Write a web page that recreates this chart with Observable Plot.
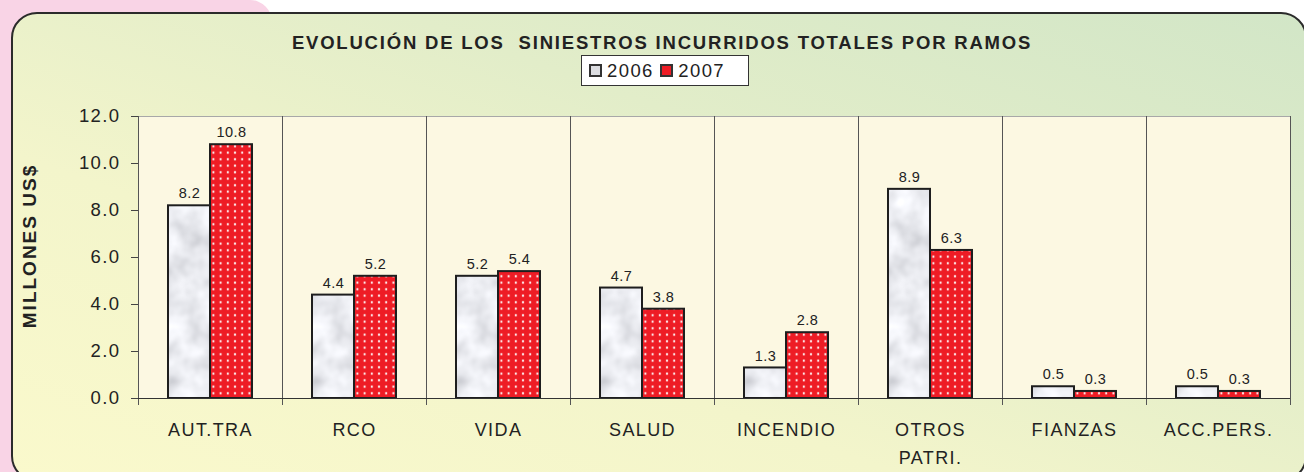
<!DOCTYPE html>
<html><head><meta charset="utf-8">
<script src="https://cdn.jsdelivr.net/npm/d3@7"></script>
<script src="https://cdn.jsdelivr.net/npm/@observablehq/plot@0.6"></script>
<style>
html,body{margin:0;padding:0;background:#fff;width:1304px;height:472px;overflow:hidden;font-family:"Liberation Sans",Arial,sans-serif;}
#pink{position:absolute;left:0;top:0;width:272px;height:472px;background:#f9d4e6;border-top-right-radius:22px;}
#frame{position:absolute;left:11px;top:12px;width:1296px;height:470px;box-sizing:border-box;border:2px solid #2b2b2b;border-radius:26px;
 background:linear-gradient(to top right,#faf9cc 0%,#f3f5cb 35%,#e2edc9 65%,#d2e6c7 100%);}
#title{position:absolute;left:10px;width:1304px;top:32px;text-align:center;font-weight:bold;font-size:18.5px;letter-spacing:1.8px;color:#222;}
#legend{position:absolute;left:581px;top:55px;width:168px;height:31px;box-sizing:border-box;border:1.5px solid #333;background:#fff;
 display:flex;align-items:center;padding-left:7px;font-size:18.5px;letter-spacing:1.4px;color:#222;}
.sw{width:9px;height:9px;border:2px solid #333;display:inline-block;margin-right:5px;}
#ylab{position:absolute;left:30px;top:246px;transform:translate(-50%,-50%) rotate(-90deg);font-weight:bold;font-size:19px;color:#222;white-space:nowrap;letter-spacing:2px;}
#chart{position:absolute;left:0;top:0;}
#chart svg text{letter-spacing:1.4px;}
#chart svg g.vals text{letter-spacing:0.4px;}
</style></head>
<body>
<svg width="0" height="0" style="position:absolute">
<defs>
<filter id="noise" x="0" y="0" width="100%" height="100%">
  <feTurbulence type="fractalNoise" baseFrequency="0.035" numOctaves="3" seed="4"/>
  <feColorMatrix type="matrix" values="0.65 0 0 0 0.5  0.65 0 0 0 0.51  0.65 0 0 0 0.55  0 0 0 0 1"/>
</filter>
<pattern id="gray" patternUnits="userSpaceOnUse" width="500" height="500">
  <rect width="500" height="500" filter="url(#noise)"/>
</pattern>
<pattern id="dots" patternUnits="userSpaceOnUse" width="7.2" height="6.5">
  <rect width="7.2" height="6.5" fill="#ee1c25"/>
  <rect x="2.6" y="2.2" width="2" height="2" fill="#ffffff"/>
</pattern>
</defs></svg>
<div id="pink"></div>
<div id="frame"></div>
<div id="title">EVOLUCIÓN DE LOS&nbsp; SINIESTROS INCURRIDOS TOTALES POR RAMOS</div>
<div id="legend"><span class="sw" style="background:#dcdde1"></span>2006&nbsp;<span class="sw" style="background:#ee1c25"></span>2007</div>
<div id="ylab">MILLONES US$</div>
<div id="chart"></div>
<script>
const categories = ["AUT.TRA","RCO","VIDA","SALUD","INCENDIO","OTROS\nPATRI.","FIANZAS","ACC.PERS."];
const years = ["2006","2007"];
const values2006 = [8.2,4.4,5.2,4.7,1.3,8.9,0.5,0.5];
const values2007 = [10.8,5.2,5.4,3.8,2.8,6.3,0.3,0.3];
const yTicks = [0,2,4,6,8,10,12];

const d2006 = categories.map((c,i)=>({cat:c,year:"2006",value:values2006[i]}));
const d2007 = categories.map((c,i)=>({cat:c,year:"2007",value:values2007[i]}));
const data = d2006.concat(d2007);

const chart = Plot.plot({
  width:1304, height:472,
  marginLeft:137, marginRight:13, marginTop:116, marginBottom:74,
  style:{background:"transparent", fontFamily:"'Liberation Sans', Arial, sans-serif", color:"#222", overflow:"visible"},
  fx:{domain:categories, padding:0, axis:null},
  x:{domain:years, paddingInner:0, paddingOuter:0.69, axis:null},
  y:{domain:[0,12], axis:null},
  marks:[
    Plot.frame({fill:"#fcf8e2", stroke:null}),
    Plot.frame({anchor:"top", stroke:"#a8a8a8", strokeWidth:1}),
    Plot.frame({anchor:"left", stroke:"#555", strokeWidth:1, insetBottom:-6}),
    Plot.frame({anchor:"right", stroke:"#555", strokeWidth:1, insetBottom:-6}),
    Plot.axisY({ticks:yTicks, tickFormat:d=>d.toFixed(1), tickSize:7, tickPadding:11, fontSize:18.5, label:null, stroke:"#444"}),
    Plot.barY(d2006,{fx:"cat",x:"year",y:"value",fill:"url(#gray)",stroke:"#1e1e1e",strokeWidth:2}),
    Plot.barY(d2007,{fx:"cat",x:"year",y:"value",fill:"url(#dots)",stroke:"#1e1e1e",strokeWidth:2}),
    Plot.ruleY([0],{stroke:"#333",strokeWidth:1.2}),
    Plot.text(data,{fx:"cat",x:"year",y:"value",text:d=>d.value.toFixed(1),dy:-12,fontSize:14.5,fill:"#222",className:"vals"}),
    Plot.text(categories,{fx:d=>d,text:d=>d,frameAnchor:"bottom",lineAnchor:"top",dy:18,fontSize:18,lineHeight:1.55,fill:"#222"})
  ]
});
document.getElementById("chart").appendChild(chart);
</script>
</body></html>
